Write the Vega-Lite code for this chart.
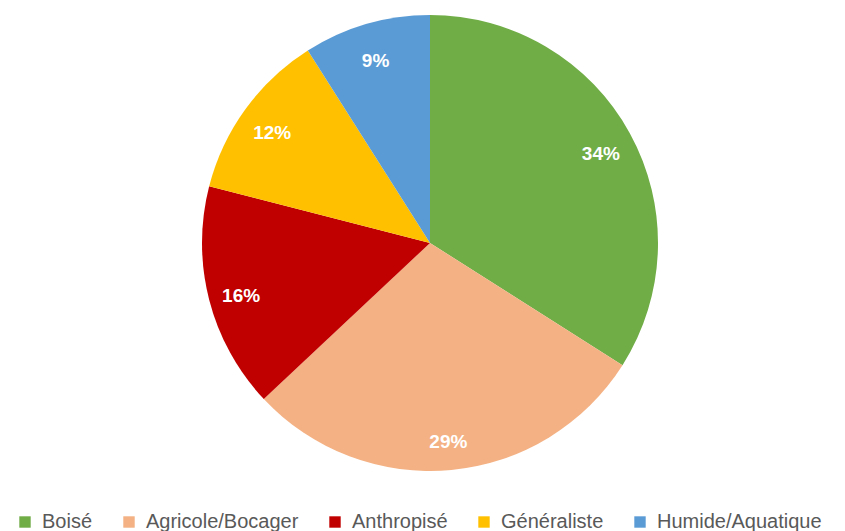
{
  "$schema": "https://vega.github.io/schema/vega-lite/v6.json",
  "width": 830,
  "height": 486,
  "padding": {"left": 15, "top": 0, "right": 0, "bottom": 0},
  "background": "white",
  "data": {
    "values": [
      {"categorie": "Boisé", "valeur": 34, "ordre": 1, "label": "34%"},
      {"categorie": "Agricole/Bocager", "valeur": 29, "ordre": 2, "label": "29%"},
      {"categorie": "Anthropisé", "valeur": 16, "ordre": 3, "label": "16%"},
      {"categorie": "Généraliste", "valeur": 12, "ordre": 4, "label": "12%"},
      {"categorie": "Humide/Aquatique", "valeur": 9, "ordre": 5, "label": "9%"}
    ]
  },
  "encoding": {
    "theta": {"field": "valeur", "type": "quantitative", "stack": true},
    "order": {"field": "ordre", "type": "quantitative"}
  },
  "layer": [
    {
      "mark": {"type": "arc", "outerRadius": 228},
      "encoding": {
        "color": {
          "field": "categorie",
          "type": "nominal",
          "scale": {
            "domain": ["Boisé", "Agricole/Bocager", "Anthropisé", "Généraliste", "Humide/Aquatique"],
            "range": ["#70AD47", "#F4B183", "#C00000", "#FFC000", "#5B9BD5"]
          },
          "legend": {
            "title": null,
            "orient": "bottom",
            "direction": "horizontal",
            "offset": 26,
            "padding": 0,
            "symbolType": "square",
            "symbolSize": 130,
            "symbolStrokeWidth": 0,
            "labelFont": "Liberation Sans",
            "labelFontSize": 20,
            "labelColor": "#595959",
            "labelOffset": 7,
            "columnPadding": 26,
            "labelLimit": 300
          }
        }
      }
    },
    {
      "mark": {"type": "text", "radius": 195, "dy": 5, "font": "Liberation Sans", "fontWeight": "bold", "fontSize": 19, "fill": "white"},
      "encoding": {
        "text": {"field": "label", "type": "nominal"}
      }
    }
  ]
}
